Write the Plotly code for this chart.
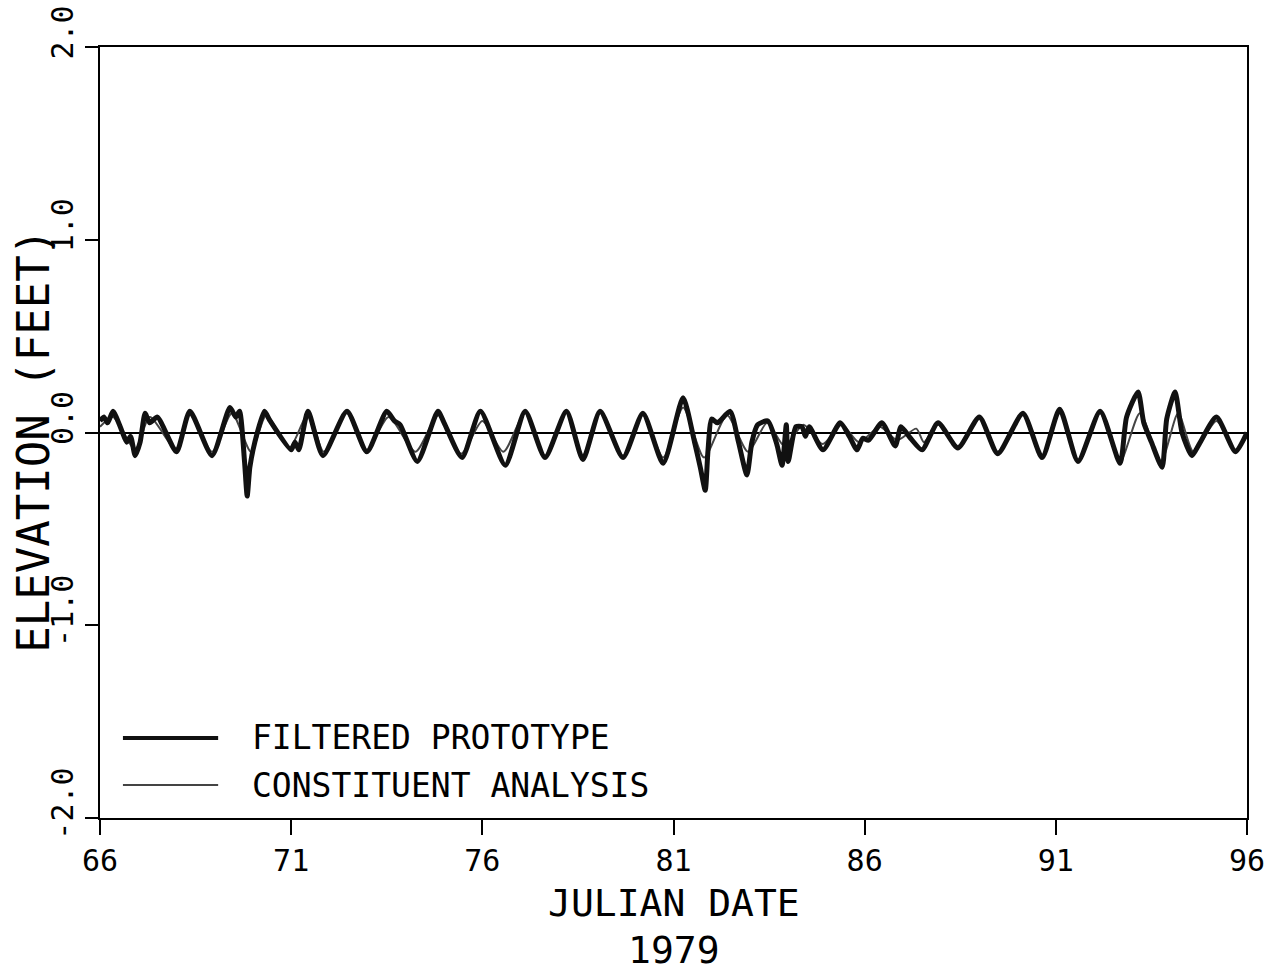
import plotly.graph_objects as go

# ---- data ----
proto_day = [66.00, 66.10, 66.20, 66.34, 66.55, 66.70, 66.80, 66.92, 67.05, 67.18, 67.30, 67.50,
             68.00, 68.35, 68.93, 69.40, 69.55, 69.65, 69.78, 69.85, 69.92, 70.05, 70.30, 70.45,
             71.00, 71.10, 71.20, 71.44, 71.83, 72.46, 72.98, 73.50, 73.70, 73.85, 74.30, 74.84,
             75.00, 75.47, 75.95, 76.60, 77.12, 77.64, 78.20, 78.63, 79.08, 79.68, 80.20, 80.73,
             81.25, 81.55, 81.70, 81.83, 81.90, 82.00, 82.15, 82.48, 82.70, 82.92, 83.05, 83.20,
             83.47, 83.70, 83.84, 83.95, 84.00, 84.20, 84.36, 84.45, 84.55, 84.91, 85.36, 85.60,
             85.80, 85.95, 86.10, 86.45, 86.80, 86.95, 87.20, 87.50, 87.92, 88.44, 89.00, 89.48,
             90.14, 90.64, 91.10, 91.58, 92.16, 92.68, 92.85, 93.15, 93.30, 93.50, 93.78, 93.90,
             94.12, 94.30, 94.56, 94.75, 95.20, 95.70, 96.00]
proto_elev = [0.06, 0.08, 0.05, 0.11, 0.02, -0.05, -0.02, -0.12, -0.05, 0.10, 0.05, 0.08,
              -0.10, 0.11, -0.12, 0.13, 0.08, 0.11, -0.15, -0.33, -0.18, -0.05, 0.11, 0.06,
              -0.09, -0.05, -0.09, 0.11, -0.12, 0.11, -0.10, 0.11, 0.06, 0.04, -0.15, 0.11,
              0.05, -0.13, 0.11, -0.17, 0.11, -0.13, 0.11, -0.14, 0.11, -0.13, 0.10, -0.16,
              0.18, -0.05, -0.18, -0.30, -0.10, 0.07, 0.05, 0.11, -0.05, -0.22, -0.05, 0.04,
              0.06, -0.06, -0.17, 0.04, -0.15, 0.03, 0.03, -0.02, 0.03, -0.09, 0.05, -0.02,
              -0.09, -0.03, -0.04, 0.05, -0.07, 0.03, -0.03, -0.09, 0.05, -0.08, 0.08, -0.11,
              0.10, -0.13, 0.12, -0.15, 0.11, -0.16, 0.08, 0.21, 0.05, -0.05, -0.18, 0.07,
              0.21, 0.00, -0.12, -0.06, 0.08, -0.10, 0.00]

const_day = [66.00, 66.34, 66.92, 67.30, 68.00, 68.35, 68.93, 69.45, 69.95, 70.35, 70.95, 71.45,
             71.85, 72.45, 72.98, 73.55, 74.25, 74.85, 75.45, 76.00, 76.55, 77.12, 77.64, 78.20,
             78.63, 79.08, 79.68, 80.20, 80.73, 81.25, 81.80, 82.40, 82.95, 83.45, 83.90, 84.40,
             84.90, 85.40, 85.85, 86.40, 86.85, 87.35, 87.55, 87.92, 88.44, 89.00, 89.48, 90.14,
             90.64, 91.10, 91.58, 92.16, 92.68, 93.20, 93.75, 94.20, 94.60, 95.20, 95.70, 96.00]
const_elev = [0.03, 0.08, -0.09, 0.08, -0.09, 0.10, -0.10, 0.10, -0.10, 0.09, -0.08, 0.10,
              -0.10, 0.10, -0.09, 0.08, -0.10, 0.09, -0.11, 0.06, -0.10, 0.10, -0.12, 0.10,
              -0.12, 0.10, -0.12, 0.09, -0.13, 0.13, -0.13, 0.09, -0.10, 0.05, -0.07, 0.04,
              -0.06, 0.04, -0.05, 0.03, -0.04, 0.02, -0.05, 0.04, -0.07, 0.07, -0.10, 0.09,
              -0.12, 0.11, -0.14, 0.10, -0.15, 0.10, -0.15, 0.10, -0.10, 0.06, -0.09, -0.02]

x_ticks = [66, 71, 76, 81, 86, 91, 96]
y_ticks = [-2.0, -1.0, 0.0, 1.0, 2.0]
y_tick_labels = ["-2.0", "-1.0", "0.0", "1.0", "2.0"]

series_names = ["FILTERED PROTOTYPE", "CONSTITUENT ANALYSIS"]
x_title = "JULIAN DATE"
x_subtitle = "1979"
y_title = "ELEVATION (FEET)"

FONT = "DejaVu Sans Mono"

fig = go.Figure()
fig.add_trace(go.Scatter(x=const_day, y=const_elev, mode="lines", name=series_names[1],
                         line=dict(color="#444444", width=2, shape="spline", smoothing=0.7),
                         showlegend=False))
fig.add_trace(go.Scatter(x=proto_day, y=proto_elev, mode="lines", name=series_names[0],
                         line=dict(color="#111111", width=5, shape="spline", smoothing=0.6),
                         showlegend=False))

# custom legend (long sample lines as in the reference)
leg_rows = [(0.1038, 4, "#111111"), (0.0428, 2, "#444444")]
for (yp, w, c), name in zip(leg_rows, series_names):
    fig.add_shape(type="line", xref="paper", yref="paper", x0=0.020, x1=0.103, y0=yp, y1=yp,
                  line=dict(color=c, width=w))
    fig.add_annotation(xref="paper", yref="paper", x=0.131, y=yp, text=name, showarrow=False,
                       xanchor="left", yanchor="middle", font=dict(family=FONT, size=33, color="black"))

# axis titles
fig.add_annotation(xref="paper", yref="paper", x=0.50, y=-0.110, text=x_title, showarrow=False,
                   xanchor="center", yanchor="middle", font=dict(family=FONT, size=38, color="black"))
fig.add_annotation(xref="paper", yref="paper", x=0.50, y=-0.171, text=x_subtitle, showarrow=False,
                   xanchor="center", yanchor="middle", font=dict(family=FONT, size=38, color="black"))
fig.add_annotation(xref="paper", yref="paper", x=-0.058, y=0.49, text=y_title, showarrow=False,
                   textangle=-90, xanchor="center", yanchor="middle",
                   font=dict(family=FONT, size=44, color="black"))

fig.update_layout(
    width=1266, height=971,
    margin=dict(l=100, r=19, t=47, b=153),
    paper_bgcolor="white", plot_bgcolor="white",
    font=dict(family=FONT, color="black"),
    showlegend=False,
)
fig.update_xaxes(
    automargin=False,
    range=[66, 96], tickvals=x_ticks, ticktext=[str(v) for v in x_ticks],
    ticks="outside", ticklen=15, tickwidth=2, tickcolor="black",
    showline=True, linecolor="black", linewidth=2, mirror=True,
    showgrid=False, zeroline=False, ticklabeloverflow="allow",
    tickfont=dict(family=FONT, size=30),
)
fig.update_yaxes(
    automargin=False,
    range=[-2, 2], tickvals=y_ticks, ticktext=y_tick_labels, tickangle=-90,
    ticks="outside", ticklen=13, tickwidth=2, tickcolor="black",
    showline=True, linecolor="black", linewidth=2, mirror=True,
    showgrid=False, zeroline=True, zerolinecolor="black", zerolinewidth=1.5,
    tickfont=dict(family=FONT, size=30), ticklabeloverflow="allow", ticklabelshift=-10,
)

fig.write_html("out.html", config={"displayModeBar": False},
               post_script="document.body.style.margin='0';document.body.style.overflow='hidden';")
